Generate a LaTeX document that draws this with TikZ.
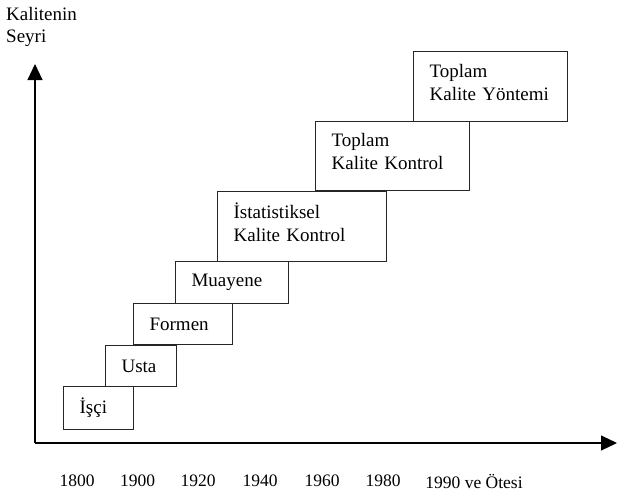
\documentclass[tikz,border=0pt]{standalone}
\usepackage{fontspec}
\setmainfont{Liberation Serif}
\usetikzlibrary{arrows.meta}
\begin{document}
\begin{tikzpicture}[x=1pt,y=-1pt,
  box/.style={draw=black!85, line width=1.2pt, fill=white, align=left, anchor=north west,
    inner xsep=16pt, inner ysep=0pt, font=\fontsize{19}{23}\selectfont},
  lbl/.style={font=\fontsize{17.5}{22}\selectfont, inner sep=0pt},
  axis/.style={line width=1.1pt, -{Triangle[length=16pt,width=15pt]}}]
\useasboundingbox (0,0) rectangle (617,491);
% axes
\coordinate (o) at (35,443);
\coordinate (ytip) at (35,64);
\coordinate (xtip) at (617,443);
\draw[axis] (o) -- (ytip);
\draw[axis] (o) -- (xtip);
% boxes
\node[box, minimum width=70pt, minimum height=43pt, text width=38pt] (isci) at (63,386) {İşçi};
\node[box, minimum width=71pt, minimum height=41pt, text width=39pt] (usta) at (105,345) {Usta};
\node[box, minimum width=99pt, minimum height=41pt, text width=67pt] (formen) at (133,303) {Formen};
\node[box, minimum width=113pt, minimum height=42pt, text width=81pt] (muayene) at (175,261) {Muayene};
\node[box, minimum width=169pt, minimum height=70pt, text width=137pt] (ist) at (217,191) {\mbox{İstatistiksel}\\\mbox{Kalite Kontrol}\\[-14pt]\mbox{}};
\node[box, minimum width=154pt, minimum height=69pt, text width=122pt] (tkk) at (315,121) {\mbox{Toplam}\\\mbox{Kalite Kontrol}\\[-14pt]\mbox{}};
\node[box, minimum width=154pt, minimum height=70pt, text width=122pt] (tky) at (413,51) {\mbox{Toplam}\\\mbox{Kalite Yöntemi}\\[-14pt]\mbox{}};
% y label
\node[lbl, anchor=north west, align=left, font=\fontsize{19}{22}\selectfont] (ylab) at (6,7) {Kalitenin\\Seyri};
% x labels
\node[lbl] (t1800) at (77,481) {1800};
\node[lbl] (t1900) at (137.5,481) {1900};
\node[lbl] (t1920) at (198,481) {1920};
\node[lbl] (t1940) at (260,481) {1940};
\node[lbl] (t1960) at (322,481) {1960};
\node[lbl] (t1980) at (383,481) {1980};
\node[lbl] (t1990) at (474,481) {1990 ve Ötesi};
\end{tikzpicture}
\end{document}
